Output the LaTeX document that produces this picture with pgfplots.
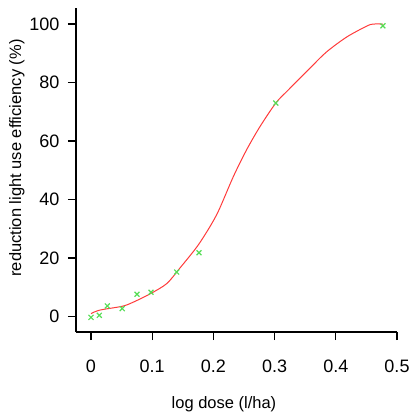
\documentclass[border=0pt]{standalone}
\usepackage{pgfplots}
\pgfplotsset{compat=1.18}
\usepackage{fontspec}
\setmainfont{Liberation Sans}
\definecolor{ptgreen}{HTML}{55DD55}
\definecolor{ptred}{HTML}{FF3B3B}
\begin{document}
\begin{tikzpicture}
\path[use as bounding box] (-76bp,-82bp) rectangle (337bp,332bp);
\begin{axis}[
  scale only axis, width=321bp, height=324bp,
  xmin=-0.0245, xmax=0.5, ymin=-5.3, ymax=105.5,
  axis x line*=bottom, axis y line*=left,
  axis line style={-, line width=1.3bp},
  every tick/.style={black, line width=1.3bp},
  tick align=outside, major tick length=8bp,
  xtick={0,0.1,0.2,0.3,0.4,0.5},
  xticklabels={0,0.1,0.2,0.3,0.4,0.5},
  ytick={0,20,40,60,80,100},
  yticklabels={0,20,40,60,80,100},
  ticklabel style={font=\fontsize{18bp}{21bp}\selectfont},
  xticklabel style={yshift=-16bp},
  yticklabel style={xshift=-5bp},
  label style={font=\fontsize{16.5bp}{20bp}\selectfont},
  xlabel={log dose (l/ha)},
  ylabel={reduction light use efficiency (\%)},
  xlabel style={at={(axis description cs:0.461,-0.222)}, anchor=center},
  ylabel style={at={(axis description cs:-0.184,0.537)}, anchor=center},
  clip=false,
]
\addplot[ptred, line width=1bp, smooth, tension=0.5] coordinates {
(0.0,1.0) (0.0147,2.2) (0.051,3.5) (0.069,4.9) (0.098,7.9) (0.124,11.3)
(0.145,16.5) (0.173,23.8) (0.194,30.6) (0.209,36.4) (0.2325,47.8)
(0.254,56.9) (0.276,64.9) (0.302,73.0) (0.322,77.4) (0.360,85.4)
(0.385,90.5) (0.418,95.6) (0.4505,99.3) (0.461,100) (0.477,100)
};
\addplot[ptgreen, only marks, mark=x, mark size=3.5bp, line width=1.2bp] coordinates {
(0,-0.3) (0.0136,0.4) (0.0267,3.6) (0.051,2.7) (0.0752,7.6) (0.098,8.3)
(0.140,15.2) (0.1765,21.8) (0.302,73.0) (0.477,99.4)
};
\end{axis}
\end{tikzpicture}
\end{document}
